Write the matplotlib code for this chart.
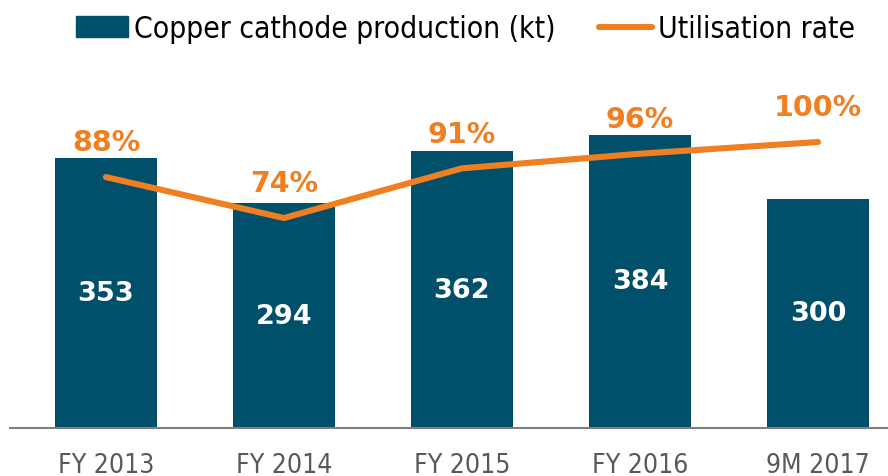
import matplotlib
matplotlib.use("Agg")
import matplotlib.pyplot as plt
from matplotlib.patches import Patch
from matplotlib.lines import Line2D

# data
periods = ["FY 2013", "FY 2014", "FY 2015", "FY 2016", "9M 2017"]
production_kt = [353, 294, 362, 384, 300]
utilisation_pct = [88, 74, 91, 96, 100]

bar_color = "#00506b"
line_color = "#f07f22"

fig = plt.figure(figsize=(8.88, 4.77), dpi=100)
ax = fig.add_axes([10 / 888, 1 - 429 / 477, 878 / 888, 369 / 477])
ax2 = ax.twinx()

x = list(range(len(periods)))
bars = ax.bar(x, production_kt, width=0.573, color=bar_color, zorder=2)
for xi, v in zip(x, production_kt):
    ax.text(xi, v / 2, str(v), ha="center", va="center", color="white",
            fontsize=19.5, fontweight="bold")

ax2.plot(x, utilisation_pct, color=line_color, lw=4.4, solid_capstyle="round",
         solid_joinstyle="miter", zorder=3)
for xi, v in zip(x, utilisation_pct):
    ax2.annotate(f"{v}%", (xi, v), xytext=(0, 25), textcoords="offset points",
                 ha="center", va="center", color=line_color,
                 fontsize=20.5, fontweight="bold")

ax.set_xlim(-0.539, 4.393)
ax.set_ylim(0, 483)
ax2.set_ylim(2.16, 128.4)

for a in (ax, ax2):
    for s in ("top", "right", "left"):
        a.spines[s].set_visible(False)
    a.set_yticks([])
ax2.spines["bottom"].set_visible(False)
ax.spines["bottom"].set_color("#808080")
ax.spines["bottom"].set_linewidth(1.5)
ax.set_xticks(x)
ax.set_xticklabels(periods, fontsize=19, color="#595959",
                   fontfamily="DejaVu Sans", fontstretch="condensed")
ax.tick_params(axis="x", length=0, pad=17)

handles = [Patch(color=bar_color),
           Line2D([0], [0], color=line_color, lw=4.4, solid_capstyle="round")]
fig.legend(handles, ["Copper cathode production (kt)", "Utilisation rate"],
           loc="upper center", bbox_to_anchor=(0.524, 1.012), ncol=2, frameon=False,
           prop={"family": "DejaVu Sans", "stretch": "condensed", "size": 21.5},
           handlelength=1.75, handletextpad=0.2, columnspacing=1.45,
           borderaxespad=0.3)

fig.savefig("out.png", dpi=100)
